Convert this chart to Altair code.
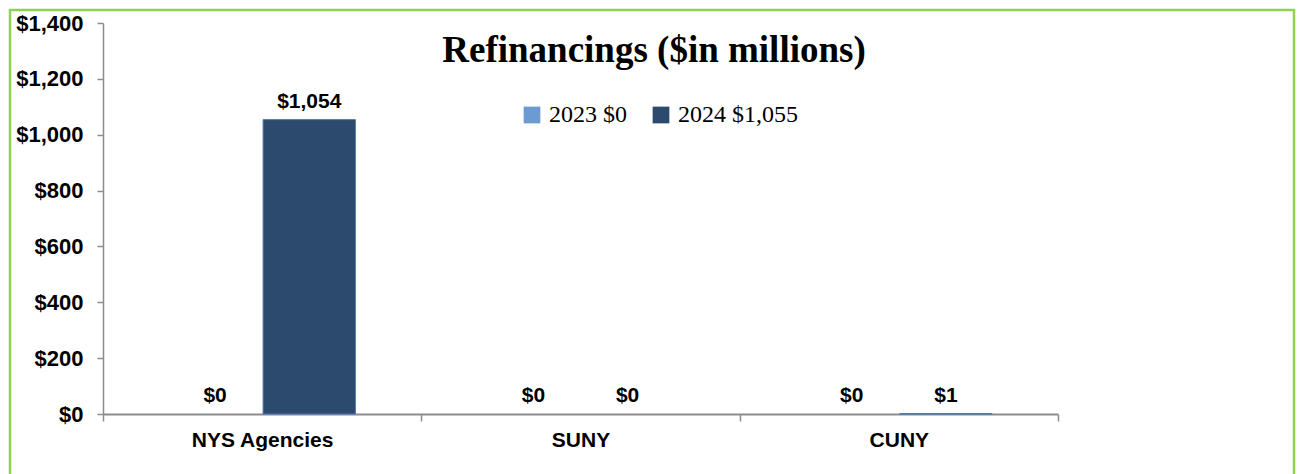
import altair as alt
import pandas as pd

categories = ["NYS Agencies", "SUNY", "CUNY"]
years = ["2023", "2024"]
values_2023 = [0, 0, 0]
values_2024 = [1054, 0, 1]
legend_totals = [0, 1055]
colors = ["#6C9BD2", "#2C4A6E"]
title_text = "Refinancings ($in millions)"

rows = []
for i, c in enumerate(categories):
    rows.append({"category": c, "year": years[0], "value": values_2023[i]})
    rows.append({"category": c, "year": years[1], "value": values_2024[i]})
df = pd.DataFrame(rows)

legend_map = {y: f"{y} ${t:,}" for y, t in zip(years, legend_totals)}
label_expr = " : ".join(
    [f"datum.label == '{y}' ? '{legend_map[y]}'" for y in years]
) + " : datum.label"

W, H = 955, 391
PAD = {"left": 95, "top": 15, "right": 238, "bottom": 60}

x_enc = alt.X(
    "category:N",
    sort=categories,
    scale=alt.Scale(paddingInner=0, paddingOuter=0),
    axis=alt.Axis(
        title=None, labelAngle=0, tickBand="extent", tickSize=7,
        labelFont="Liberation Sans", labelFontWeight="bold", labelFontSize=21,
        labelColor="black", labelPadding=8, domainColor="#8C8C8C",
        domainWidth=2, tickColor="#8C8C8C", tickWidth=1.5,
    ),
)
xo_enc = alt.XOffset(
    "year:N", sort=years, scale=alt.Scale(paddingInner=0.02, paddingOuter=0.7)
)
y_enc = alt.Y(
    "value:Q",
    scale=alt.Scale(domain=[0, 1400]),
    axis=alt.Axis(
        title=None, values=list(range(0, 1401, 200)), format="$,.0f",
        grid=False, tickSize=6, labelPadding=14,
        labelFont="Liberation Sans", labelFontWeight="bold", labelFontSize=22,
        labelColor="black", domainColor="#8C8C8C", domainWidth=1.5,
        tickColor="#8C8C8C", tickWidth=1.5,
    ),
)

base = alt.Chart(df)

bars = base.mark_bar(stroke="#4A76B0", strokeWidth=1).encode(
    x=x_enc,
    xOffset=xo_enc,
    y=y_enc,
    strokeOpacity=alt.condition("datum.value > 0", alt.value(1), alt.value(0)),
    color=alt.Color(
        "year:N",
        scale=alt.Scale(domain=years, range=colors),
        legend=alt.Legend(
            title=None, orient="none", legendX=417, legendY=80,
            direction="horizontal", symbolType="square", symbolSize=280,
            symbolStrokeWidth=0, labelFont="Liberation Serif", labelFontSize=24,
            labelColor="black", labelOffset=5, columnPadding=22, padding=0,
            labelExpr=label_expr,
        ),
    ),
)

labels = base.mark_text(
    dy=-12, baseline="alphabetic", font="Liberation Sans", fontWeight="bold",
    fontSize=21, color="black",
).encode(
    x=alt.X("category:N", sort=categories),
    xOffset=alt.XOffset("year:N", sort=years),
    y=alt.Y("value:Q"),
    text=alt.Text("value:Q", format="$,.0f"),
)

title = alt.Chart(pd.DataFrame({"t": [title_text]})).mark_text(
    font="Liberation Serif", fontWeight="bold", fontSize=37, color="black",
    align="center", baseline="alphabetic",
).encode(x=alt.value(551), y=alt.value(39), text="t:N")

border = alt.Chart(pd.DataFrame({"a": [0]})).mark_rect(
    filled=False, stroke="#92D050", strokeWidth=2.5,
).encode(
    x=alt.value(-93), x2=alt.value(W + PAD["right"] - 2),
    y=alt.value(-13), y2=alt.value(H + PAD["bottom"] + 20),
)

chart = alt.layer(border, bars, labels, title).properties(
    width=W, height=H,
    padding=PAD,
    autosize=alt.AutoSizeParams(type="none"),
    background="white",
).configure_view(stroke=None)

chart.save("out.html", embed_options={"renderer": "svg", "actions": False})
